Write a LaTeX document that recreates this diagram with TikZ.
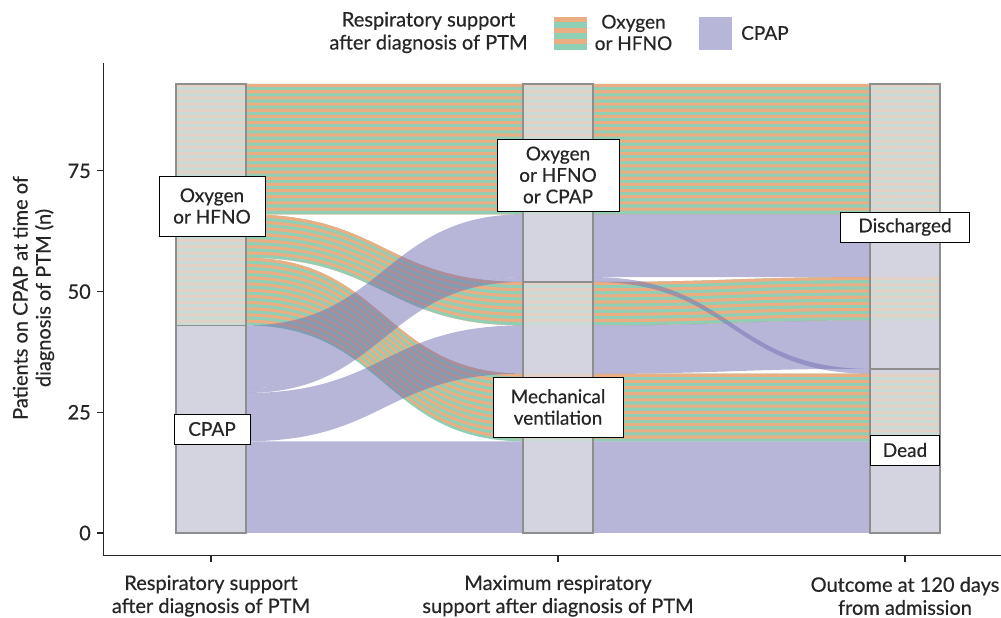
\documentclass[tikz,border=0pt]{standalone}
\usepackage{fontspec}
\setmainfont{Lato}[FakeBold=0.5]
\definecolor{purflow}{HTML}{716DB1}
\definecolor{purkey}{HTML}{B8B6D8}
\definecolor{stripeA}{HTML}{EAAE82}
\definecolor{stripeB}{HTML}{8ECFB6}
\definecolor{barfill}{HTML}{E1E1E4}
\definecolor{barline}{HTML}{8E8E8E}
\definecolor{txt}{HTML}{262626}
\newcommand\alluvband[6]{%
 \fill[#6] (176,{#1+#4}) -- (246,{#1+#4}) .. controls (384.5,{#1+#4}) and (384.5,{#2+#4}) .. (523,{#2+#4}) -- (593,{#2+#4}) .. controls (731.5,{#2+#4}) and (731.5,{#3+#4}) .. (870,{#3+#4}) -- (940,{#3+#4}) -- (940,{#3+#5}) -- (870,{#3+#5}) .. controls (731.5,{#3+#5}) and (731.5,{#2+#5}) .. (593,{#2+#5}) -- (523,{#2+#5}) .. controls (384.5,{#2+#5}) and (384.5,{#1+#5}) .. (246,{#1+#5}) -- (176,{#1+#5}) -- cycle;}
\newcommand\stripedband[4]{%
 \alluvband{#1}{#2}{#3}{0}{#4}{stripeB}
 \pgfmathsetmacro\nstr{int(ceil(#4/(2*0.64)))-1}
 \foreach \k in {0,...,\nstr}{
   \pgfmathsetmacro\tA{max(0,#4-(2*\k+1)*0.64)}
   \pgfmathsetmacro\tB{#4-2*\k*0.64}
   \alluvband{#1}{#2}{#3}{\tA}{\tB}{stripeA}
 }}
\tikzset{
  purband/.style={purflow, fill opacity=0.5},
  stratum/.style={fill=barfill, fill opacity=0.7, draw=barline, line width=1.5pt},
  lbl/.style={draw=black, fill=white, line width=0.9pt, inner sep=0pt, align=center, text=txt, font=\fontsize{19}{21.5}\selectfont},
  axtxt/.style={text=txt, align=center, font=\fontsize{20}{23}\selectfont, inner sep=0pt},
  axline/.style={draw=txt, line width=1.1pt}
}
\begin{document}
\begin{tikzpicture}[x=1pt,y=1pt]
\useasboundingbox (0,0) rectangle (1001,618);
% ---- flows (data coordinates) ----
\begin{scope}[yshift=85pt, y=4.828pt]
 \stripedband{66}{66}{66}{27}
 \stripedband{57}{43}{44}{9}
 \stripedband{43}{19}{19}{14}
 \alluvband{30}{53}{53}{0}{13}{purband}
 \alluvband{29}{52}{33}{0}{1}{purband}
 \alluvband{19}{33}{34}{0}{10}{purband}
 \alluvband{0}{0}{0}{0}{19}{purband}
 % strata
 \path[stratum] (176,0) rectangle (246,43);
 \path[stratum] (176,43) rectangle (246,93);
 \path[stratum] (523,0) rectangle (593,52);
 \path[stratum] (523,52) rectangle (593,93);
 \path[stratum] (870,0) rectangle (940,34);
 \path[stratum] (870,34) rectangle (940,93);
\end{scope}
% ---- pixel coordinates ----
\begin{scope}[yshift=618pt, y=-1pt]
 % axes
 \coordinate (axtop) at (103.5,63);
 \coordinate (axorig) at (103.5,555.5);
 \coordinate (axright) at (1001,555.5);
 \draw[axline] (axtop) -- (axorig) -- (axright);
 \foreach \v/\nm in {0/t0,25/t25,50/t50,75/t75}{
   \coordinate (\nm) at (103.5,{533-4.828*\v});
   \draw[axline] (\nm) -- ++(-6.5,0);
   \node[axtxt, anchor=east] (\nm lab) at (91,{533-4.828*\v}) {\v};
 }
 \foreach \xx/\nm in {211/xa,558/xb,905/xc}{
   \coordinate (\nm) at (\xx,555.5);
   \draw[axline] (\nm) -- ++(0,7);
 }
 \node[axtxt] (xalab) at (211,596) {Respiratory support\\after diagnosis of PTM};
 \node[axtxt] (xblab) at (558,596) {Maximum respiratory\\support after diagnosis of PTM};
 \node[axtxt] (xclab) at (905,596) {Outcome at 120 days\\from admission};
 \node[axtxt, rotate=90] (ylab) at (33.5,298) {Patients on CPAP at time of\\diagnosis of PTM (n)};
 % stratum labels
 \node[lbl, minimum width=106pt, minimum height=60pt] (s1) at (212,206) {Oxygen\\or HFNO};
 \node[lbl, minimum width=76pt, minimum height=30pt] (s2) at (212,429) {CPAP};
 \node[lbl, minimum width=122pt, minimum height=72pt] (s3) at (558,175) {Oxygen\\or HFNO\\or CPAP};
 \node[lbl, minimum width=130pt, minimum height=60pt] (s4) at (558,407) {Mechanical\\ventilation};
 \node[lbl, minimum width=129pt, minimum height=30pt] (s5) at (905,227) {Discharged};
 \node[lbl, minimum width=69pt, minimum height=30pt] (s6) at (905,450) {Dead};
 % legend
 \node[axtxt] (legtitle) at (428.5,32.5) {Respiratory support\\after diagnosis of PTM};
 \foreach \i in {0,1,2}{
   \fill[stripeA] (554,{17+11*\i}) rectangle (587,{22.5+11*\i});
   \fill[stripeB] (554,{22.5+11*\i}) rectangle (587,{28+11*\i});
 }
 \node[axtxt, font=\fontsize{19}{21.5}\selectfont] (legox) at (633.5,32.5) {Oxygen\\or HFNO};
 \fill[purkey] (699,17) rectangle (732,50);
 \node[axtxt, anchor=west, font=\fontsize{19}{21.5}\selectfont] (legcp) at (741,33) {CPAP};
\end{scope}
\end{tikzpicture}
\end{document}
